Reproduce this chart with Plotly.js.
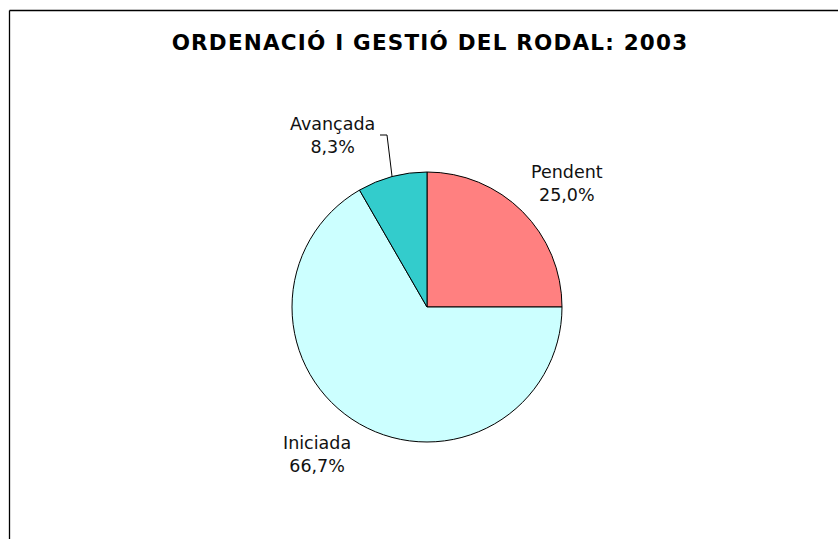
<!DOCTYPE html>
<html>
<head>
<meta charset="utf-8">
<script src="https://cdn.plot.ly/plotly-3.0.1.min.js"></script>
<style>
  html, body { margin: 0; padding: 0; background: #fff; }
  #chart { width: 838px; height: 539px; }
  .gtitle { letter-spacing: 1.2px; }
</style>
</head>
<body>
<div id="chart"></div>
<script>
// ---- data ----
var categories = ["Pendent", "Iniciada", "Avançada"];
var values = [3, 8, 1];
var colors = ["#FF8080", "#CCFFFF", "#33CCCC"];
var chartTitle = "ORDENACIÓ I GESTIÓ DEL RODAL: 2003";

// ---- layout config (pixels) ----
var W = 838, H = 539;
var cx = 427, cy = 307, R = 135;
// label text centres relative to pie centre (px)
var labelOffsets = [[140, -123.5], [-110, 147], [-95, -171]];
var leaderIndex = 2;            // label with a leader line (Avançada)
var leaderElbow = [[-47, -172], [-40, -172]]; // stub start, elbow (relative to centre)

function px(x) { return x / W; }
function py(y) { return 1 - y / H; }

var total = values.reduce(function (a, b) { return a + b; }, 0);
function fmtPct(v) { return (v / total * 100).toFixed(1).replace(".", ",") + "%"; }

var annotations = categories.map(function (c, i) {
  return {
    xref: "paper", yref: "paper",
    x: px(cx + labelOffsets[i][0]), y: py(cy + labelOffsets[i][1]),
    xanchor: "center", yanchor: "middle",
    text: c + "<br>" + fmtPct(values[i]),
    showarrow: false,
    font: { family: "DejaVu Sans, Verdana, sans-serif", size: 17.5, color: "#111" }
  };
});

// leader line tip at middle angle of the slice (clockwise from 12 o'clock)
var cum = 0, midAngle = 0;
for (var i = 0; i < values.length; i++) {
  if (i === leaderIndex) { midAngle = (cum + values[i] / 2) / total * 2 * Math.PI; }
  cum += values[i];
}
var tipX = cx + R * Math.sin(midAngle), tipY = cy - R * Math.cos(midAngle);
var path = "M" + px(cx + leaderElbow[0][0]) + "," + py(cy + leaderElbow[0][1]) +
           " L" + px(cx + leaderElbow[1][0]) + "," + py(cy + leaderElbow[1][1]) +
           " L" + px(tipX) + "," + py(tipY);

var shapes = [
  { type: "path", xref: "paper", yref: "paper", path: path, line: { color: "#000", width: 1 } },
  // chart frame (left + top)
  { type: "line", xref: "paper", yref: "paper", x0: px(9.5), y0: py(10.5), x1: 1.01, y1: py(10.5), line: { color: "#000", width: 1.3 } },
  { type: "line", xref: "paper", yref: "paper", x0: px(9.5), y0: py(10.5), x1: px(9.5), y1: -0.01, line: { color: "#000", width: 1.3 } }
];

var trace = {
  type: "pie",
  labels: categories,
  values: values,
  sort: false,
  direction: "clockwise",
  rotation: 0,
  textinfo: "none",
  hoverinfo: "none",
  marker: { colors: colors, line: { color: "#000", width: 1 } },
  domain: { x: [px(cx - R), px(cx + R)], y: [py(cy + R), py(cy - R)] },
  showlegend: false
};

var layout = {
  width: W, height: H,
  margin: { l: 0, r: 0, t: 0, b: 0 },
  paper_bgcolor: "#fff",
  plot_bgcolor: "#fff",
  separators: ",.",
  showlegend: false,
  title: {
    text: chartTitle,
    x: 430 / W, xanchor: "center",
    y: py(42), yref: "container", yanchor: "middle",
    font: { family: "DejaVu Sans, Verdana, sans-serif", size: 21.5, weight: "bold", color: "#000" }
  },
  annotations: annotations,
  shapes: shapes
};

Plotly.newPlot("chart", [trace], layout, { displayModeBar: false, staticPlot: true });
</script>
</body>
</html>
